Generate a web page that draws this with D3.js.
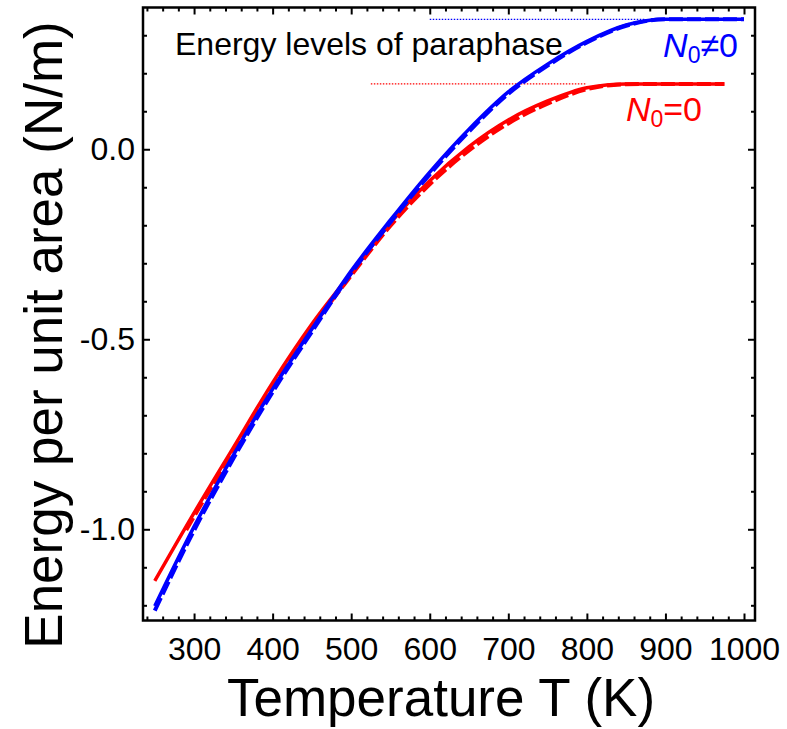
<!DOCTYPE html>
<html>
<head>
<meta charset="utf-8">
<script src="https://cdn.jsdelivr.net/npm/d3@7"></script>
<style>
  body { margin: 0; background: #fff; }
  text { font-family: "Liberation Sans", Arial, sans-serif; }
</style>
</head>
<body>
<div id="viz"></div>
<script>
// temperatures (K)
var temps = [250, 300, 350, 400, 450, 500, 550, 600, 650, 700, 750, 800, 850, 900, 950, 1000];
// N0 != 0 (blue)
var blueSolid  = [-1.202, -0.993, -0.805, -0.631, -0.473, -0.320, -0.186, -0.060, 0.053, 0.151, 0.224, 0.284, 0.327, 0.342, 0.342, 0.342];
var blueDashed = [-1.214, -1.003, -0.814, -0.639, -0.480, -0.326, -0.192, -0.066, 0.047, 0.146, 0.220, 0.281, 0.325, 0.342, 0.342, 0.342];
// N0 = 0 (red)
var redTemps   = [250, 300, 350, 400, 450, 500, 550, 600, 650, 700, 750, 800, 850, 900, 950, 975];
var redSolid   = [-1.136, -0.957, -0.785, -0.614, -0.460, -0.326, -0.194, -0.083, 0.007, 0.077, 0.127, 0.162, 0.172, 0.172, 0.172, 0.172];
var redDashTemps = [290, 300, 350, 400, 450, 500, 550, 600, 650, 700, 750, 800, 850, 900, 950, 975];
var redDashed  = [-1.002, -0.966, -0.795, -0.624, -0.469, -0.332, -0.201, -0.092, -0.003, 0.068, 0.120, 0.158, 0.171, 0.172, 0.172, 0.172];
// paraphase energy levels (dotted)
var levelBlue = {from: 600, to: 875, value: 0.342};
var levelRed  = {from: 525, to: 800, value: 0.172};

var xTicks = [300, 400, 500, 600, 700, 800, 900, 1000];
var yTicks = [-1.0, -0.5, 0.0];

var width = 787, height = 729;
var mLeft = 143, mRight = 755, mTop = 7.5, mBottom = 620.5;

var svg = d3.select('#viz').append('svg')
  .attr('width', width)
  .attr('height', height);

var x = d3.scaleLinear().domain([235, 1014]).range([mLeft, mRight]);
var y = d3.scaleLinear().domain([-1.24, 0.373]).range([mBottom, mTop]);

svg.append('clipPath').attr('id', 'clip')
  .append('rect')
  .attr('x', mLeft).attr('y', mTop)
  .attr('width', mRight - mLeft).attr('height', mBottom - mTop);

var plot = svg.append('g').attr('clip-path', 'url(#clip)');

function pts(xs, ys) {
  return xs.map(function(t, i){ return [t, ys[i]]; });
}

var line = d3.line()
  .x(function(d){ return x(d[0]); })
  .y(function(d){ return y(d[1]); })
  .curve(d3.curveMonotoneX);

// dotted reference levels
plot.append('line')
  .attr('x1', x(levelBlue.from)).attr('x2', x(levelBlue.to))
  .attr('y1', y(levelBlue.value)).attr('y2', y(levelBlue.value))
  .attr('stroke', '#0000ff').attr('stroke-width', 1.2)
  .attr('stroke-dasharray', '1.5,1.5');

plot.append('line')
  .attr('x1', x(levelRed.from)).attr('x2', x(levelRed.to))
  .attr('y1', y(levelRed.value)).attr('y2', y(levelRed.value))
  .attr('stroke', '#ff0000').attr('stroke-width', 1.2)
  .attr('stroke-dasharray', '1.5,1.5');

// curves
plot.append('path')
  .datum(pts(redTemps, redSolid))
  .attr('d', line)
  .attr('fill', 'none').attr('stroke', '#ff0000').attr('stroke-width', 3.5);

plot.append('path')
  .datum(pts(redDashTemps, redDashed))
  .attr('d', line)
  .attr('fill', 'none').attr('stroke', '#ff0000').attr('stroke-width', 4)
  .attr('stroke-dasharray', '14,4');

plot.append('path')
  .datum(pts(temps, blueSolid))
  .attr('d', line)
  .attr('fill', 'none').attr('stroke', '#0000ff').attr('stroke-width', 3.5);

plot.append('path')
  .datum(pts(temps, blueDashed))
  .attr('d', line)
  .attr('fill', 'none').attr('stroke', '#0000ff').attr('stroke-width', 4)
  .attr('stroke-dasharray', '14,4');

// axes (ticks inward on all four sides)
var xMinor = d3.range(240, 1014, 20).filter(function(d){ return d % 100 != 0; });
var yMinor = d3.range(-12, 4).map(function(d){ return d / 10; })
  .filter(function(d){ return Math.abs(d * 2 - Math.round(d * 2)) > 1e-6; });

function fmtY(d){ return d3.format('.1f')(d).replace('\u2212', '-'); }

svg.append('g').attr('class', 'ax').attr('transform', 'translate(0,' + mBottom + ')')
  .call(d3.axisBottom(x).tickValues(xTicks).tickSize(-7).tickPadding(17).tickFormat(d3.format('d')));
svg.append('g').attr('transform', 'translate(0,' + mBottom + ')')
  .call(d3.axisBottom(x).tickValues(xMinor).tickSize(-4).tickFormat(''));
svg.append('g').attr('transform', 'translate(0,' + mTop + ')')
  .call(d3.axisTop(x).tickValues(xTicks).tickSize(-7).tickFormat(''));
svg.append('g').attr('transform', 'translate(0,' + mTop + ')')
  .call(d3.axisTop(x).tickValues(xMinor).tickSize(-4).tickFormat(''));

svg.append('g').attr('class', 'ax').attr('transform', 'translate(' + mLeft + ',0)')
  .call(d3.axisLeft(y).tickValues(yTicks).tickSize(-7).tickPadding(8).tickFormat(fmtY));
svg.append('g').attr('transform', 'translate(' + mLeft + ',0)')
  .call(d3.axisLeft(y).tickValues(yMinor).tickSize(-4).tickFormat(''));
svg.append('g').attr('transform', 'translate(' + mRight + ',0)')
  .call(d3.axisRight(y).tickValues(yTicks).tickSize(-7).tickFormat(''));
svg.append('g').attr('transform', 'translate(' + mRight + ',0)')
  .call(d3.axisRight(y).tickValues(yMinor).tickSize(-4).tickFormat(''));

svg.selectAll('.domain').remove();
svg.selectAll('.tick line').attr('stroke', '#000').attr('stroke-width', 2);
svg.selectAll('.ax')
  .attr('font-family', '"Liberation Sans", Arial, sans-serif')
  .attr('font-size', 32);
svg.selectAll('.tick text').attr('fill', '#000');

// frame
svg.append('rect')
  .attr('x', mLeft).attr('y', mTop)
  .attr('width', mRight - mLeft).attr('height', mBottom - mTop)
  .attr('fill', 'none').attr('stroke', '#000').attr('stroke-width', 2.5);

// axis titles
svg.append('text')
  .attr('x', 441).attr('y', 716)
  .attr('text-anchor', 'middle')
  .attr('font-size', 53)
  .text('Temperature T (K)');

svg.append('text')
  .attr('transform', 'translate(62,' + 335 + ') rotate(-90)')
  .attr('text-anchor', 'middle')
  .attr('font-size', 53)
  .text('Energy per unit area (N/m)');

// annotations
svg.append('text')
  .attr('x', 175).attr('y', 55)
  .attr('font-size', 32)
  .text('Energy levels of paraphase');

var lblBlue = svg.append('text')
  .attr('x', 738).attr('y', 57)
  .attr('text-anchor', 'end')
  .attr('font-size', 34).attr('fill', '#0000ff');
lblBlue.append('tspan').attr('font-style', 'italic').text('N');
lblBlue.append('tspan').attr('font-size', 23).attr('dy', 6).text('0');
lblBlue.append('tspan').attr('dy', -6).text('\u22600');

var lblRed = svg.append('text')
  .attr('x', 702).attr('y', 121)
  .attr('text-anchor', 'end')
  .attr('font-size', 34).attr('fill', '#ff0000');
lblRed.append('tspan').attr('font-style', 'italic').text('N');
lblRed.append('tspan').attr('font-size', 23).attr('dy', 6).text('0');
lblRed.append('tspan').attr('dy', -6).text('=0');
</script>
</body>
</html>
